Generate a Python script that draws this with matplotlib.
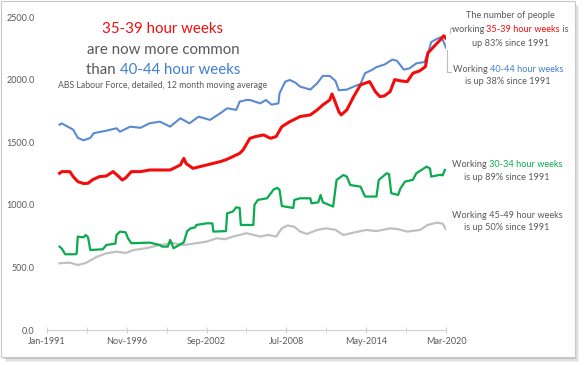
import matplotlib
matplotlib.use("Agg")
import matplotlib.pyplot as plt
from matplotlib.patches import Rectangle
from matplotlib.lines import Line2D

# ---------------- data (thousands of people, 12 month moving average) -------------
blue_dates = ["1991-12","1992-02","1992-12","1993-04","1993-09","1994-03","1994-06","1995-05",
              "1996-02","1996-05","1997-02","1997-11","1998-07","1999-04","2000-01","2000-10",
              "2001-06","2002-02","2002-12","2003-09","2004-03","2004-11","2005-02","2005-08",
              "2005-11","2006-08","2007-01","2007-06","2007-12","2008-01","2008-06","2008-10",
              "2009-03","2009-07","2010-04","2010-10","2011-03","2011-09","2012-02","2012-05",
              "2012-12","2013-06","2013-12","2014-04","2014-10","2015-02","2015-09","2016-04",
              "2016-08","2017-02","2017-07","2018-01","2018-08","2018-11","2019-02","2019-07",
              "2019-11","2020-01","2020-03"]
blue_vals = [1640,1650,1600,1535,1515,1534,1572,1592,
             1611,1584,1624,1615,1651,1664,1624,1691,
             1651,1704,1678,1731,1771,1758,1824,1837,
             1837,1810,1837,1800,1810,1891,1984,1997,
             1975,1944,1920,1971,2030,2029,1990,1915,
             1920,1944,1965,2051,2077,2100,2120,2160,
             2150,2080,2090,2130,2140,2200,2300,2325,
             2340,2300,2255]

red_dates = ["1991-12","1992-02","1992-09","1992-12","1993-04","1993-09","1994-01","1994-05",
             "1994-11","1995-05","1995-11","1996-04","1996-07","1996-10","1997-03","1997-11",
             "1998-07","1999-01","2000-01","2000-06","2000-10","2001-01","2001-03","2001-09",
             "2002-09","2003-09","2004-02","2004-08","2005-02","2005-05","2005-11","2006-04",
             "2006-11","2007-05","2007-10","2008-03","2008-10","2009-07","2010-04","2010-10",
             "2011-03","2011-09","2011-11","2012-01","2012-05","2012-07","2012-12","2013-06",
             "2013-12","2014-08","2015-01","2015-05","2015-09","2016-02","2016-06","2016-11",
             "2017-05","2017-10","2018-04","2018-09","2018-11","2019-05","2019-10","2020-01",
             "2020-03"]
red_vals = [1252,1265,1265,1225,1185,1170,1172,1200,
            1225,1230,1265,1225,1198,1215,1265,1265,
            1278,1278,1278,1300,1318,1371,1330,1291,
            1318,1345,1360,1385,1411,1438,1531,1545,
            1558,1531,1545,1624,1664,1705,1718,1758,
            1798,1837,1885,1840,1744,1718,1758,1864,
            1958,1984,1904,1864,1870,1904,2000,1990,
            1984,2051,2070,2104,2211,2270,2317,2350,
            2330]

green_dates = ["1991-12","1992-02","1992-05","1993-02","1993-03","1993-04","1993-09","1993-11",
               "1994-01","1994-03","1995-02","1995-05","1996-01","1996-02","1996-05","1996-10",
               "1996-12","1997-03","1998-07","1999-04","1999-06","1999-11","2000-01","2000-02",
               "2000-04","2001-01","2001-04","2001-07","2001-11","2001-12","2002-09","2003-02",
               "2003-03","2004-02","2004-03","2004-08","2004-11","2005-02","2005-03","2006-02",
               "2006-03","2006-06","2007-02","2007-08","2007-11","2008-01","2008-03","2009-01",
               "2009-02","2009-07","2010-04","2010-05","2010-11","2011-01","2011-03","2011-12",
               "2012-03","2012-09","2012-12","2013-03","2013-12","2014-04","2015-02","2015-04",
               "2015-11","2016-01","2016-03","2016-09","2016-11","2017-03","2017-10","2018-01",
               "2018-10","2019-01","2019-02","2019-10","2019-12","2020-02","2020-03"]
green_vals = [666,650,605,605,610,746,740,759,
              740,639,645,679,690,759,786,780,
              733,693,698,679,666,666,719,700,
              653,700,790,812,820,839,852,852,
              786,790,932,946,980,975,839,839,
              1000,1039,1052,1124,1135,1119,990,975,
              1039,1052,1052,1012,1020,1079,1020,986,
              1198,1238,1225,1158,1145,1066,1066,1198,
              1252,1245,1092,1079,1130,1185,1200,1252,
              1305,1290,1225,1240,1235,1278,1280]

gray_dates = ["1991-12","1992-09","1993-04","1993-11","1994-09","1995-05","1996-02","1996-10",
              "1997-05","1998-04","1999-04","2000-04","2001-01","2001-12","2002-09","2003-06",
              "2004-01","2004-08","2005-08","2006-02","2006-08","2007-03","2007-10","2008-03",
              "2008-08","2009-02","2009-07","2010-01","2010-10","2011-06","2012-02","2012-09",
              "2013-06","2014-05","2015-02","2016-02","2016-09","2017-05","2018-04","2018-11",
              "2019-07","2019-12","2020-03"]
gray_vals = [533,538,519,535,586,612,626,615,
             639,653,679,693,679,693,706,733,
             725,746,773,760,746,760,746,812,
             835,825,786,767,799,812,800,759,
             778,799,790,812,805,786,799,839,
             858,850,804]

tick_labels = ["Jan-1991", "Nov-1996", "Sep-2002", "Jul-2008", "May-2014", "Mar-2020"]
y_ticks = [0, 500, 1000, 1500, 2000, 2500]

# ---------------- styling ---------------------------------------------------------
RED = "#f20d0d"
BLUE = "#5a8ad0"
BLUE_TXT = "#3f7fcf"
GREEN = "#0aaa4f"
GRAY = "#c0c0c0"
TXT = "#595959"
FONT = "Lato"
plt.rcParams["font.family"] = [FONT, "DejaVu Sans"]

W, H = 585, 365
fig = plt.figure(figsize=(W / 100, H / 100), dpi=100)


def fx(px):
    return px / W


def fy(py):
    return (H - py) / H


# card with drop shadow
for i, a in enumerate([0.10, 0.16, 0.25]):
    off = 5 - i * 1.3
    fig.patches.append(Rectangle((fx(1 + off), fy(357 + off)), fx(573), (357 - 1) / H,
                                 transform=fig.transFigure, facecolor="#808080",
                                 edgecolor="none", alpha=a, zorder=0))
fig.patches.append(Rectangle((fx(0.5), fy(357)), fx(574), (357 - 0.5) / H,
                             transform=fig.transFigure, facecolor="white",
                             edgecolor="#c8c8c8", linewidth=0.8, zorder=1))


def to_idx(d):
    y, m = d.split("-")
    return (int(y) - 1991) * 12 + int(m) - 1


ax = fig.add_axes([fx(47), fy(330), fx(446) - fx(47), fy(17) - fy(330)])
ax.set_facecolor("none")
ax.set_zorder(2)

ax.plot([to_idx(d) for d in gray_dates], gray_vals, color=GRAY, lw=1.6, solid_joinstyle="round")
ax.plot([to_idx(d) for d in green_dates], green_vals, color=GREEN, lw=1.6, solid_joinstyle="round")
ax.plot([to_idx(d) for d in blue_dates], blue_vals, color=BLUE, lw=1.5, solid_joinstyle="round")
ax.plot([to_idx(d) for d in red_dates], red_vals, color=RED, lw=2.2, solid_joinstyle="round")

ax.set_xlim(0, 350)
ax.set_ylim(0, 2500)
ax.set_yticks(y_ticks)
ax.set_yticklabels([f"{v:.1f}" for v in y_ticks])
label_pos = [to_idx(d) for d in ["1991-01", "1996-11", "2002-09", "2008-07", "2014-05", "2020-03"]]
ax.set_xticks(label_pos)
ax.set_xticklabels(tick_labels)
ax.set_xticks(list(range(0, 351, 35)), minor=True)
for s in ["top", "right", "left"]:
    ax.spines[s].set_visible(False)
ax.spines["bottom"].set_color("#d0d0d0")
ax.spines["bottom"].set_linewidth(0.8)
ax.tick_params(axis="y", length=0, labelsize=6.5, labelcolor=TXT, pad=9)
ax.tick_params(axis="x", which="both", direction="inout", length=4, color="#d0d0d0",
               labelsize=6.5, labelcolor=TXT, pad=3)
ax.tick_params(axis="x", which="minor", labelbottom=False)

fig.canvas.draw()
renderer = fig.canvas.get_renderer()


def text_w(s, size):
    t = fig.text(0, 0, s + "|", fontsize=size)
    w = t.get_window_extent(renderer).width
    t.remove()
    t2 = fig.text(0, 0, "|", fontsize=size)
    w2 = t2.get_window_extent(renderer).width
    t2.remove()
    return w - w2


def rich(cx, cy, pieces, size):
    full = "".join(p for p, _ in pieces)
    total = text_w(full, size)
    x0 = cx - total / 2
    pre = ""
    for p, c in pieces:
        x = x0 + text_w(pre, size) if pre else x0
        fig.text(fx(x), fy(cy), p, color=c, fontsize=size, ha="left", va="center", zorder=5)
        pre += p


# headline
HSZ = 10.8
rich(163, 29, [("35-39 hour weeks", RED)], HSZ)
rich(163, 50, [("are now more common", TXT)], HSZ)
rich(163, 70, [("than ", TXT), ("40-44 hour weeks", BLUE_TXT)], HSZ)
rich(163, 86, [("ABS Labour Force, detailed, 12 month moving average", TXT)], 6.3)

# right annotations
ASZ = 6.6
rich(510, 16, [("The number of people", TXT)], ASZ)
rich(510, 30, [("working ", TXT), ("35-39 hour weeks", RED), (" is", TXT)], ASZ)
rich(510, 43, [("up 83% since 1991", TXT)], ASZ)
rich(508, 69, [("Working ", TXT), ("40-44 hour weeks", BLUE_TXT)], ASZ)
rich(508, 82, [("is up 38% since 1991", TXT)], ASZ)
rich(507, 164, [("Working ", TXT), ("30-34 hour weeks", GREEN)], ASZ)
rich(507, 177, [("is up 89% since 1991", TXT)], ASZ)
rich(507, 215, [("Working 45-49 hour weeks", TXT)], ASZ)
rich(507, 228, [("is up 50% since 1991", TXT)], ASZ)

# callout brackets
for xs, ys in [([453, 450, 450], [28, 28, 33]), ([447, 447, 451], [50, 72, 72])]:
    fig.lines.append(Line2D([fx(v) for v in xs], [fy(v) for v in ys], transform=fig.transFigure,
                            color="#bdbdbd", lw=0.8, zorder=4))

fig.savefig("out.png", dpi=100)
